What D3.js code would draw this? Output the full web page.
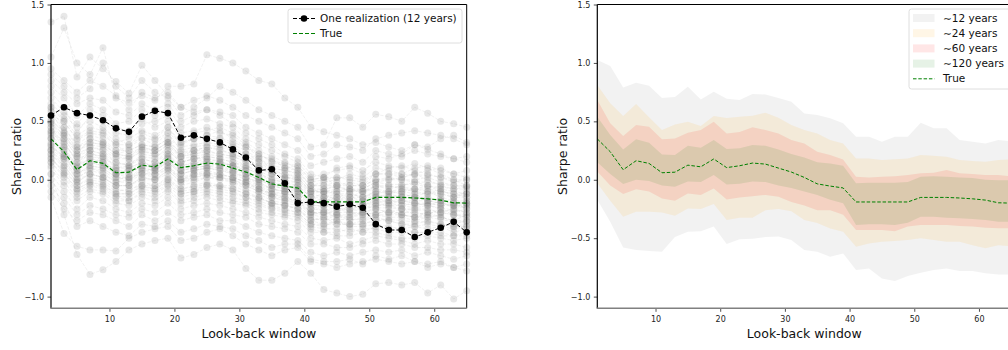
<!DOCTYPE html>
<html>
<head>
<meta charset="utf-8">
<script src="https://cdn.jsdelivr.net/npm/d3@7"></script>
<style>
  body { margin: 0; background: #fff; }
  svg { display: block; font-family: "DejaVu Sans", sans-serif; }
</style>
</head>
<body>
<svg id="chart" width="1008" height="350"></svg>
<script>
// look-back windows (x values)
const windows = [1,3,5,7,9,11,13,15,17,19,21,23,25,27,29,31,33,35,37,39,41,43,45,47,49,51,53,55,57,59,61,63,65];

const trueSharpe = [.35,.24,.086,.163,.14,.06,.065,.125,.111,.178,.104,.12,.143,.134,.10,.066,.02,-.035,-.054,-.07,-.19,-.19,-.19,-.19,-.19,-.151,-.151,-.151,-.156,-.163,-.174,-.197,-.2];

const oneRealization = [.55,.62,.57,.55,.51,.44,.41,.54,.59,.57,.36,.38,.35,.32,.26,.19,.08,.09,-.03,-.20,-.19,-.20,-.23,-.21,-.24,-.38,-.43,-.43,-.49,-.45,-.41,-.36,-.45];

// other 12-year realizations (grey cloud)
const realizations = [
  [1.35,1.40,.88,1.05,.95,.84,.74,.98,.85,.72,.62,.58,.60,.55,.48,.40,.35,.30,.22,.18,.05,.02,.10,.12,.08,.15,.12,.10,.14,.10,.05,.00,-.05],
  [1.05,1.30,1.00,.90,1.13,.70,.66,.72,.68,.80,.80,.82,1.07,1.04,1.00,.93,.85,.82,.70,.62,.45,.41,.38,.35,.30,.32,.28,.25,.30,.26,.22,.18,.20],
  [.90,.80,.70,.78,1.00,.80,.70,.85,.75,.70,.55,.62,.70,.80,.75,.68,.60,.55,.50,.45,.28,.30,.53,.53,.45,.56,.54,.50,.62,.57,.50,.48,.45],
  [.80,.70,.55,.65,.60,.48,.50,.60,.55,.62,.45,.50,.52,.48,.45,.35,.30,.25,.20,.15,.02,.05,.08,.10,.05,.20,.18,.22,.30,.28,.35,.38,.32],
  [.75,.62,.40,.55,.50,.40,.38,.48,.50,.55,.40,.42,.45,.40,.38,.30,.22,.15,.12,.08,-.05,-.02,.00,.05,.02,.10,.08,.05,.10,.12,.08,.05,.02],
  [.65,.55,.45,.50,.45,.35,.30,.40,.35,.45,.30,.35,.38,.42,.35,.28,.20,.18,.10,.12,.00,.02,-.05,-.02,-.05,.05,.10,.12,.08,.05,.02,-.02,.00],
  [.60,.45,.30,.38,.35,.25,.28,.35,.30,.40,.25,.28,.30,.28,.25,.20,.15,.08,.05,.02,-.10,-.08,-.05,-.10,-.08,-.02,.00,.02,.05,.00,-.05,-.08,-.06],
  [.55,.50,.35,.42,.40,.30,.22,.28,.25,.32,.20,.22,.25,.30,.28,.22,.18,.10,.08,.05,-.08,-.12,-.10,-.08,-.12,-.05,-.08,-.05,-.02,-.05,-.10,-.12,-.15],
  [.50,.38,.25,.30,.28,.20,.18,.25,.22,.30,.18,.20,.22,.20,.18,.12,.08,.02,.00,-.02,-.12,-.15,-.12,-.15,-.10,-.08,-.10,-.08,-.10,-.12,-.08,-.15,-.12],
  [.48,.35,.20,.28,.25,.15,.12,.20,.18,.28,.15,.18,.20,.18,.15,.10,.05,.00,-.02,-.05,-.15,-.12,-.18,-.15,-.18,-.12,-.10,-.12,-.15,-.10,-.15,-.18,-.20],
  [.45,.30,.18,.22,.20,.12,.15,.18,.15,.22,.12,.15,.18,.16,.12,.08,.02,-.05,-.05,-.08,-.18,-.20,-.15,-.18,-.20,-.15,-.12,-.15,-.12,-.18,-.20,-.22,-.18],
  [.40,.32,.15,.25,.22,.10,.10,.15,.12,.20,.10,.12,.15,.12,.10,.05,.00,-.05,-.08,-.10,-.20,-.18,-.22,-.20,-.22,-.18,-.20,-.18,-.20,-.22,-.18,-.25,-.22],
  [.38,.28,.12,.18,.15,.08,.05,.12,.10,.15,.08,.10,.12,.10,.08,.02,-.02,-.08,-.10,-.12,-.22,-.22,-.20,-.25,-.22,-.20,-.18,-.20,-.22,-.20,-.22,-.20,-.25],
  [.35,.25,.10,.15,.12,.05,.08,.10,.08,.18,.05,.08,.10,.08,.05,.00,-.05,-.10,-.12,-.15,-.25,-.25,-.28,-.22,-.25,-.22,-.22,-.25,-.25,-.25,-.28,-.25,-.28],
  [.32,.22,.05,.12,.10,.02,.00,.08,.05,.12,.02,.05,.08,.05,.02,-.02,-.08,-.12,-.15,-.18,-.28,-.30,-.25,-.28,-.30,-.25,-.28,-.28,-.28,-.30,-.25,-.30,-.32],
  [.30,.18,.02,.08,.05,-.02,-.02,.05,.02,.10,.00,.02,.05,.02,.00,-.05,-.10,-.15,-.18,-.20,-.30,-.28,-.32,-.32,-.28,-.30,-.25,-.30,-.32,-.28,-.32,-.35,-.30],
  [.25,.15,.00,.05,.02,-.05,-.05,.00,.00,.05,-.05,-.02,.02,.00,-.02,-.08,-.12,-.18,-.20,-.22,-.32,-.35,-.30,-.35,-.32,-.30,-.32,-.32,-.35,-.32,-.30,-.38,-.35],
  [.22,.10,-.05,.02,.00,-.08,-.10,-.02,-.05,.02,-.08,-.05,-.02,-.05,-.05,-.10,-.15,-.20,-.22,-.25,-.35,-.32,-.38,-.38,-.35,-.32,-.35,-.38,-.38,-.35,-.38,-.40,-.38],
  [.20,.05,-.08,-.02,-.05,-.12,-.12,-.05,-.08,-.02,-.12,-.10,-.05,-.08,-.10,-.15,-.18,-.22,-.25,-.28,-.38,-.40,-.35,-.40,-.40,-.38,-.40,-.42,-.40,-.42,-.40,-.45,-.42],
  [.15,.02,-.12,-.05,-.08,-.15,-.18,-.10,-.12,-.05,-.15,-.12,-.10,-.12,-.15,-.18,-.22,-.25,-.28,-.30,-.40,-.42,-.42,-.45,-.42,-.42,-.45,-.45,-.45,-.45,-.45,-.48,-.45],
  [.10,-.05,-.18,-.10,-.12,-.20,-.22,-.15,-.18,-.10,-.20,-.18,-.15,-.18,-.20,-.22,-.28,-.30,-.32,-.35,-.45,-.45,-.48,-.48,-.45,-.45,-.48,-.50,-.50,-.48,-.50,-.52,-.50],
  [.05,-.10,-.25,-.15,-.18,-.25,-.28,-.20,-.22,-.15,-.25,-.22,-.20,-.22,-.25,-.28,-.32,-.35,-.38,-.40,-.50,-.52,-.50,-.55,-.52,-.48,-.50,-.52,-.55,-.52,-.55,-.55,-.58],
  [.00,-.15,-.30,-.22,-.25,-.30,-.32,-.25,-.28,-.20,-.30,-.28,-.25,-.28,-.30,-.32,-.38,-.40,-.42,-.45,-.55,-.55,-.58,-.58,-.55,-.52,-.55,-.55,-.58,-.58,-.60,-.60,-.62],
  [-.10,-.25,-.35,-.28,-.30,-.35,-.40,-.30,-.35,-.28,-.35,-.32,-.30,-.35,-.35,-.40,-.45,-.48,-.50,-.52,-.62,-.65,-.62,-.65,-.62,-.60,-.62,-.60,-.65,-.62,-.65,-.68,-.65],
  [-.15,-.46,-.57,-.60,-.60,-.61,-.50,-.45,-.42,-.40,-.52,-.50,-.45,-.42,-.48,-.55,-.60,-.65,-.60,-.58,-.70,-.72,-.75,-.72,-.70,-.68,-.70,-.72,-.70,-.75,-.72,-.75,-.72],
  [.05,-.30,-.64,-.81,-.77,-.70,-.60,-.55,-.52,-.50,-.67,-.64,-.58,-.55,-.60,-.76,-.86,-.86,-.80,-.70,-.80,-.94,-.97,-1.0,-.98,-.89,-.88,-.90,-.88,-.97,-.90,-1.02,-.95],
  [.70,.58,.48,.60,.55,.45,.42,.52,.45,.50,.35,.40,.42,.45,.40,.32,.25,.20,.15,.10,-.02,.00,.02,.00,-.02,.05,.05,.02,.05,.08,.10,.05,.08],
  [.58,.40,.22,.35,.32,.22,.25,.30,.28,.35,.22,.25,.28,.25,.22,.18,.12,.05,.02,.00,-.12,-.10,-.12,-.12,-.15,-.10,-.12,-.10,-.08,-.10,-.12,-.15,-.10],
  [.42,.28,.08,.20,.18,.05,.02,.10,.08,.15,.05,.08,.10,.10,.06,.02,-.04,-.08,-.10,-.12,-.25,-.22,-.25,-.25,-.25,-.20,-.22,-.22,-.20,-.22,-.25,-.28,-.25],
  [.28,.20,.05,.10,.08,.00,.02,.05,.05,.12,.00,.05,.05,.05,.02,-.02,-.06,-.12,-.15,-.15,-.28,-.28,-.30,-.30,-.28,-.25,-.28,-.25,-.30,-.28,-.28,-.30,-.32],
  [.18,.08,-.05,.00,-.02,-.10,-.08,-.05,-.05,.00,-.10,-.08,-.05,-.05,-.08,-.12,-.15,-.20,-.22,-.25,-.35,-.38,-.35,-.38,-.38,-.35,-.35,-.38,-.40,-.38,-.40,-.42,-.40],
  [.12,-.02,-.15,-.08,-.10,-.18,-.18,-.12,-.15,-.08,-.18,-.15,-.12,-.15,-.18,-.20,-.25,-.28,-.30,-.32,-.42,-.45,-.45,-.42,-.45,-.40,-.42,-.42,-.45,-.45,-.48,-.48,-.48],
  [.85,.75,.65,.70,.68,.58,.55,.65,.60,.65,.50,.55,.60,.58,.55,.45,.40,.35,.30,.25,.12,.15,.18,.20,.15,.25,.22,.20,.25,.22,.20,.18,.15],
  [.62,.52,.38,.45,.42,.32,.35,.42,.38,.45,.32,.35,.35,.35,.30,.25,.18,.12,.10,.08,-.05,-.05,-.02,-.05,-.05,.00,.02,.00,.00,.02,-.02,-.05,-.05],
  [.45,.35,.20,.25,.22,.15,.12,.22,.20,.25,.15,.18,.18,.15,.12,.10,.05,-.02,-.04,-.05,-.15,-.18,-.15,-.15,-.15,-.12,-.15,-.15,-.15,-.15,-.18,-.18,-.18],
  [.35,.22,.08,.15,.12,.05,.05,.12,.10,.18,.08,.10,.12,.12,.08,.05,.00,-.05,-.08,-.08,-.20,-.20,-.20,-.20,-.18,-.15,-.15,-.18,-.18,-.18,-.20,-.22,-.22],
  [.25,.12,-.02,.05,.02,-.05,-.05,.02,.00,.08,-.02,.00,.02,.02,-.02,-.05,-.10,-.15,-.18,-.18,-.30,-.32,-.30,-.32,-.30,-.28,-.28,-.30,-.32,-.30,-.32,-.35,-.35],
  [.95,.85,.75,.85,.80,.72,.60,.75,.70,.75,.62,.68,.72,.68,.62,.55,.50,.45,.40,.35,.20,.22,.30,.28,.25,.35,.38,.40,.42,.40,.38,.35,.30],
  [-.05,-.20,-.40,-.35,-.40,-.45,-.48,-.38,-.40,-.35,-.45,-.42,-.38,-.40,-.42,-.48,-.52,-.58,-.55,-.55,-.68,-.70,-.70,-.68,-.72,-.65,-.68,-.65,-.70,-.72,-.70,-.75,-.78],
  [.52,.40,.28,.32,.30,.22,.20,.28,.25,.32,.20,.25,.25,.22,.20,.15,.10,.05,.02,.00,-.10,-.10,-.08,-.08,-.10,-.05,-.05,-.08,-.08,-.05,-.08,-.10,-.12],
  [.42,.33,.15,.22,.20,.10,.12,.18,.15,.25,.15,.18,.20,.18,.15,.12,.06,.00,-.02,-.02,-.15,-.15,-.15,-.12,-.15,-.10,-.10,-.10,-.12,-.12,-.12,-.15,-.15],
  [.30,.20,.05,.12,.10,.02,.02,.08,.08,.15,.05,.08,.10,.08,.06,.02,-.02,-.08,-.10,-.10,-.22,-.22,-.22,-.22,-.22,-.18,-.18,-.18,-.20,-.20,-.22,-.22,-.24],
  [.48,.38,.22,.28,.26,.18,.18,.24,.22,.30,.20,.22,.24,.22,.20,.16,.10,.05,.02,.02,-.10,-.10,-.10,-.10,-.10,-.06,-.06,-.06,-.08,-.08,-.10,-.12,-.12],
  [.22,.12,-.02,.05,.02,-.05,-.05,.02,.00,.08,-.02,.02,.04,.02,.00,-.04,-.08,-.14,-.16,-.18,-.28,-.28,-.28,-.28,-.28,-.24,-.24,-.25,-.26,-.26,-.28,-.30,-.30],
  [.55,.45,.28,.35,.32,.25,.25,.30,.28,.35,.28,.30,.32,.30,.26,.22,.16,.10,.08,.06,-.05,-.05,-.05,-.05,-.05,.00,.00,.00,-.02,-.02,-.04,-.05,-.06],
  [.36,.26,.12,.18,.16,.08,.08,.14,.12,.20,.12,.14,.16,.14,.12,.08,.02,-.04,-.06,-.06,-.18,-.18,-.18,-.18,-.18,-.14,-.14,-.14,-.16,-.16,-.18,-.20,-.20],
  [.18,.06,-.08,-.02,-.04,-.12,-.12,-.06,-.08,.00,-.08,-.06,-.04,-.06,-.08,-.12,-.16,-.20,-.22,-.24,-.34,-.34,-.34,-.34,-.34,-.30,-.30,-.30,-.32,-.32,-.34,-.36,-.36],
  [.62,.50,.34,.40,.38,.30,.30,.36,.34,.40,.32,.35,.38,.36,.32,.28,.22,.16,.14,.12,.00,.02,.02,.02,.00,.05,.05,.05,.04,.04,.02,.00,.00],
  [.40,.20,.10,.25,.15,.05,.10,.15,.10,.22,.08,.12,.15,.15,.12,.05,.00,-.02,-.06,-.08,-.20,-.15,-.20,-.18,-.22,-.16,-.18,-.12,-.15,-.18,-.16,-.22,-.20],
  [.26,.18,.00,.10,.06,-.02,.00,.06,.04,.10,.00,.04,.06,.04,.02,-.02,-.08,-.12,-.12,-.14,-.25,-.26,-.24,-.26,-.26,-.22,-.20,-.22,-.24,-.22,-.24,-.26,-.28],
  [.50,.42,.25,.32,.30,.22,.20,.26,.25,.32,.24,.25,.28,.26,.22,.18,.12,.08,.04,.04,-.08,-.08,-.06,-.08,-.08,-.02,-.04,-.04,-.04,-.06,-.06,-.08,-.08],
  [.15,.04,-.10,-.04,-.06,-.14,-.15,-.08,-.10,-.04,-.12,-.10,-.08,-.10,-.12,-.15,-.20,-.24,-.26,-.28,-.38,-.38,-.38,-.38,-.38,-.34,-.34,-.35,-.36,-.36,-.38,-.40,-.40]
];

// sample-length bands (right panel)
const band12Hi  = [1.025,.973,.79,.83,.805,.70,.708,.796,.688,.753,.693,.682,.734,.73,.70,.668,.568,.554,.526,.483,.368,.368,.325,.368,.368,.488,.44,.44,.34,.325,.311,.34,.33];
const band12Lo  = [-.17,-.36,-.58,-.60,-.61,-.615,-.49,-.445,-.44,-.40,-.55,-.51,-.505,-.49,-.485,-.516,-.602,-.616,-.659,-.63,-.773,-.76,-.844,-.867,-.824,-.796,-.773,-.759,-.78,-.78,-.80,-.81,-.81];
const band24Hi  = [.81,.654,.545,.648,.534,.425,.474,.497,.46,.545,.528,.54,.548,.574,.53,.468,.425,.397,.34,.311,.183,.183,.169,.175,.183,.211,.205,.197,.169,.16,.154,.169,.175];
const band24Lo  = [-.03,-.18,-.317,-.274,-.274,-.28,-.308,-.245,-.25,-.208,-.345,-.325,-.325,-.26,-.25,-.27,-.345,-.37,-.416,-.445,-.573,-.545,-.53,-.525,-.516,-.50,-.516,-.53,-.53,-.56,-.587,-.56,-.57];
const band60Hi  = [.682,.483,.374,.468,.454,.346,.354,.402,.425,.497,.397,.408,.449,.425,.397,.34,.311,.24,.211,.174,.026,.02,.026,.03,.04,.055,.06,.083,.055,.05,.04,.04,.03];
const band60Lo  = [.07,-.05,-.122,-.082,-.10,-.16,-.18,-.117,-.131,-.074,-.168,-.151,-.14,-.13,-.145,-.19,-.22,-.26,-.26,-.30,-.43,-.43,-.43,-.44,-.40,-.388,-.388,-.388,-.395,-.40,-.41,-.415,-.415];
const band120Hi = [.539,.383,.26,.346,.317,.217,.211,.291,.274,.34,.263,.269,.297,.291,.26,.22,.19,.15,.14,.12,-.03,-.025,-.025,-.025,-.02,.026,.03,.026,.02,.015,.0,-.005,-.005];
const band120Lo = [.15,.05,-.037,.0,-.01,-.05,-.06,-.015,-.02,.04,-.04,-.035,-.015,-.02,-.05,-.07,-.10,-.13,-.17,-.20,-.388,-.38,-.38,-.388,-.368,-.317,-.317,-.325,-.33,-.335,-.345,-.36,-.36];

const bands = [
  { label: '\u223C12 years',  lo: band12Lo,  hi: band12Hi,  color: 'grey' },
  { label: '\u223C24 years',  lo: band24Lo,  hi: band24Hi,  color: 'orange' },
  { label: '\u223C60 years',  lo: band60Lo,  hi: band60Hi,  color: 'red' },
  { label: '\u223C120 years', lo: band120Lo, hi: band120Hi, color: 'green' }
];

const yTicks = [-1.0, -0.5, 0.0, 0.5, 1.0, 1.5];
const xTicks = [10, 20, 30, 40, 50, 60];

const svg = d3.select('#chart');
const plotTop = 4.5, plotBottom = 308.3;

function makePanel(left, right) {
  const g = svg.append('g');
  const x = d3.scaleLinear().domain([1, 65]).range([left, right]);
  const y = d3.scaleLinear().domain([-1.1, 1.5]).range([plotBottom, plotTop]);
  return { g, x, y, left, right };
}

function drawFrame(p) {
  const { g, x, y, left, right } = p;
  const yAxis = g.append('g')
    .attr('transform', `translate(${left},0)`)
    .call(d3.axisLeft(y).tickValues(yTicks).tickSize(3.5).tickPadding(3.5).tickFormat(d3.format('.1f')));
  const xAxis = g.append('g')
    .attr('transform', `translate(0,${plotBottom})`)
    .call(d3.axisBottom(x).tickValues(xTicks).tickSize(3.5).tickPadding(4.5));
  [yAxis, xAxis].forEach(a => {
    a.select('.domain').remove();
    a.selectAll('line').attr('stroke', '#222').attr('stroke-width', 0.8);
    a.selectAll('text').attr('fill', '#222').style('font-size', '8px').style('font-family', '"DejaVu Sans", sans-serif');
  });

  // spines
  g.append('line').attr('x1', left).attr('x2', right).attr('y1', plotTop).attr('y2', plotTop)
    .attr('stroke', '#000').attr('stroke-width', 1);
  g.append('line').attr('x1', right).attr('x2', right).attr('y1', plotTop).attr('y2', plotBottom)
    .attr('stroke', '#000').attr('stroke-width', 1);
  g.append('line').attr('x1', left).attr('x2', left).attr('y1', plotTop).attr('y2', plotBottom)
    .attr('stroke', '#000').attr('stroke-width', 1.2);
  g.append('line').attr('x1', left - 0.6).attr('x2', right).attr('y1', plotBottom).attr('y2', plotBottom)
    .attr('stroke', '#808080').attr('stroke-width', 1.6);

  g.append('text')
    .attr('x', (left + right) / 2).attr('y', 338)
    .attr('text-anchor', 'middle').style('font-size', '12.5px').attr('fill', '#111')
    .text('Look-back window');
  g.append('text')
    .attr('transform', `translate(${left - 30},${(plotTop + plotBottom) / 2}) rotate(-90)`)
    .attr('text-anchor', 'middle').style('font-size', '12.5px').attr('fill', '#111')
    .text('Sharpe ratio');
}

// ---------- left panel ----------
const L = makePanel(51, 466.7);
const lineL = d3.line().x((d, i) => L.x(windows[i])).y(d => L.y(d));

const cloud = L.g.append('g');
realizations.forEach(row => {
  cloud.append('path').datum(row)
    .attr('d', lineL).attr('fill', 'none')
    .attr('stroke', 'grey').attr('stroke-opacity', 0.13)
    .attr('stroke-width', 0.9).attr('stroke-dasharray', '3.5,1.5');
  cloud.selectAll(null).data(row).enter().append('circle')
    .attr('cx', (d, i) => L.x(windows[i])).attr('cy', d => L.y(d))
    .attr('r', 3.5).attr('fill', 'grey').attr('fill-opacity', 0.18);
});

L.g.append('path').datum(trueSharpe)
  .attr('d', lineL).attr('fill', 'none')
  .attr('stroke', 'green').attr('stroke-width', 1.2).attr('stroke-dasharray', '4,2');

L.g.append('path').datum(oneRealization)
  .attr('d', lineL).attr('fill', 'none')
  .attr('stroke', '#000').attr('stroke-width', 1).attr('stroke-dasharray', '4,2');
L.g.selectAll('circle.real').data(oneRealization).enter().append('circle')
  .attr('class', 'real')
  .attr('cx', (d, i) => L.x(windows[i])).attr('cy', d => L.y(d))
  .attr('r', 3.3).attr('fill', '#000');

drawFrame(L);

// left legend
const legL = L.g.append('g').attr('transform', 'translate(288,9)');
legL.append('rect').attr('width', 174).attr('height', 34).attr('rx', 2.5)
  .attr('fill', '#fff').attr('fill-opacity', 0.8).attr('stroke', '#d6d6d6').attr('stroke-width', 0.8);
legL.append('line').attr('x1', 5).attr('x2', 27).attr('y1', 9.5).attr('y2', 9.5)
  .attr('stroke', '#000').attr('stroke-dasharray', '4,2');
legL.append('circle').attr('cx', 16).attr('cy', 9.5).attr('r', 3.3).attr('fill', '#000');
legL.append('text').attr('x', 32).attr('y', 13).style('font-size', '10.5px').attr('fill', '#111')
  .text('One realization (12 years)');
legL.append('line').attr('x1', 5).attr('x2', 27).attr('y1', 24.5).attr('y2', 24.5)
  .attr('stroke', 'green').attr('stroke-width', 1.1).attr('stroke-dasharray', '4,2');
legL.append('text').attr('x', 32).attr('y', 28).style('font-size', '10.5px').attr('fill', '#111')
  .text('True');

// ---------- right panel ----------
const R = makePanel(597.3, 1011.3);
const area = d3.area()
  .x((d, i) => R.x(windows[i]))
  .y0(d => R.y(d[0])).y1(d => R.y(d[1]));

bands.forEach(b => {
  R.g.append('path')
    .datum(b.lo.map((v, i) => [v, b.hi[i]]))
    .attr('d', area).attr('fill', b.color).attr('fill-opacity', 0.1);
});

const lineR = d3.line().x((d, i) => R.x(windows[i])).y(d => R.y(d));
R.g.append('path').datum(trueSharpe)
  .attr('d', lineR).attr('fill', 'none')
  .attr('stroke', 'green').attr('stroke-width', 1).attr('stroke-dasharray', '3.5,1.8');

drawFrame(R);

// right legend
const legR = R.g.append('g').attr('transform', 'translate(909,9)');
legR.append('rect').attr('width', 102).attr('height', 80).attr('rx', 2.5)
  .attr('fill', '#fff').attr('fill-opacity', 0.8).attr('stroke', '#d6d6d6').attr('stroke-width', 0.8);
const patchColors = ['#f2f2f2', '#fff6e6', '#ffe6e6', '#e6f2e6'];
bands.forEach((b, i) => {
  const cy = 9 + i * 15.2;
  legR.append('rect').attr('x', 4).attr('y', cy - 4).attr('width', 21.5).attr('height', 8)
    .attr('fill', patchColors[i]);
  legR.append('text').attr('x', 34).attr('y', cy + 3.5).style('font-size', '10.5px').attr('fill', '#111')
    .text(b.label);
});
legR.append('line').attr('x1', 4).attr('x2', 25.5).attr('y1', 9 + 4 * 15.2).attr('y2', 9 + 4 * 15.2)
  .attr('stroke', 'green').attr('stroke-dasharray', '3.5,1.8');
legR.append('text').attr('x', 34).attr('y', 9 + 4 * 15.2 + 3.5).style('font-size', '10.5px').attr('fill', '#111')
  .text('True');
</script>
</body>
</html>
